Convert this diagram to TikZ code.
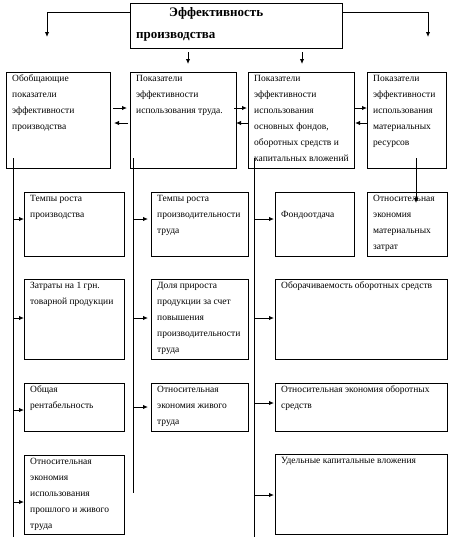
\documentclass[tikz,border=0pt]{standalone}
\usepackage{fontspec}
\setmainfont{Liberation Serif}
\usetikzlibrary{arrows.meta}
\newcommand{\mybox}[6]{%
  \node[box,minimum width=#4pt,minimum height=#5pt] (#1) at (#2,#3) {};
  \node[txt] (#1t) at ([shift={(6pt,-2pt)}]#1.north west) {\rule{0pt}{7pt}#6};}
\begin{document}
\begin{tikzpicture}[x=1pt,y=-1pt,
  box/.style={draw,line width=1pt,inner sep=0,anchor=north west},
  txt/.style={anchor=north west,inner sep=0,align=left,font=\fontsize{9.5}{16}\selectfont},
  ttl/.style={anchor=base west,inner sep=0,font=\fontsize{13}{16}\selectfont\bfseries},
  ln/.style={line width=1pt},
  arr/.style={line width=1pt,-{Latex[length=5pt,width=4.5pt]}}]
\useasboundingbox (0,0) rectangle (458,541);
% title box
\node[box,minimum width=212pt,minimum height=45pt] (T) at (130,3) {};
\node[ttl] (T1) at (169,16) {Эффективность};
\node[ttl] (T2) at (136,38) {производства};
% first row
\mybox{A}{6}{72}{104}{96}{Обобщающие\\показатели\\эффективности\\производства}
\mybox{B}{130}{72}{106}{96}{Показатели\\эффективности\\использования труда.}
\mybox{C}{248}{72}{106}{96}{Показатели\\эффективности\\использования\\основных фондов,\\оборотных средств и\\капитальных вложений}
\mybox{D}{367}{72}{79}{96}{Показатели\\эффективности\\использования\\материальных\\ресурсов}
% column 1
\mybox{E1}{24}{192}{100}{64}{Темпы роста\\производства}
\mybox{E2}{24}{279}{100}{80}{Затраты на 1 грн.\\товарной продукции}
\mybox{E3}{24}{383}{100}{48}{Общая\\рентабельность}
\mybox{E4}{24}{455}{100}{79}{Относительная\\экономия\\использования\\прошлого и живого\\труда}
% column 2
\mybox{F1}{151}{192}{97}{64}{Темпы роста\\производительности\\труда}
\mybox{F2}{151}{279}{97}{80}{Доля прироста\\продукции за счет\\повышения\\производительности\\труда}
\mybox{F3}{151}{383}{97}{48}{Относительная\\экономия живого\\труда}
% column 3/4
\mybox{G1}{275}{192}{79}{64}{\\Фондоотдача}
\mybox{H1}{367}{192}{80}{64}{Относительная\\экономия\\материальных\\затрат}
\mybox{G2}{275}{279}{172}{80}{Оборачиваемость оборотных средств}
\mybox{G3}{275}{383}{172}{48}{Относительная экономия оборотных\\средств}
\mybox{G4}{275}{454}{172}{80}{Удельные капитальные вложения}
% coordinates
\coordinate (tl) at (130,12);
\coordinate (tlE) at (47,37);
\coordinate (tr) at (342,12);
\coordinate (trE) at (428,37);
\coordinate (d1s) at (188,52); \coordinate (d1e) at (188,64);
\coordinate (d2s) at (302,52); \coordinate (d2e) at (302,64);
\coordinate (r1s) at (113,108); \coordinate (r1e) at (127,108);
\coordinate (l1s) at (128,123); \coordinate (l1e) at (114,123);
\coordinate (r2s) at (234,108); \coordinate (r2e) at (247,108);
\coordinate (l2s) at (248,123); \coordinate (l2e) at (236,123);
\coordinate (r3s) at (354,108); \coordinate (r3e) at (367,108);
\coordinate (l3s) at (368,123); \coordinate (l3e) at (355,123);
\coordinate (a1) at (13,158); \coordinate (a2) at (13,537);
\coordinate (b1) at (133,158); \coordinate (b2) at (133,493);
\coordinate (c1) at (254,158); \coordinate (c2) at (254,537);
\coordinate (dd1) at (416,158); \coordinate (dd2) at (416,203);
% title connectors
\draw[arr] (tl) -| (tlE);
\draw[arr] (tr) -| (trE);
\draw[arr] (d1s) -- (d1e);
\draw[arr] (d2s) -- (d2e);
% horizontal arrows between first row
\draw[arr] (r1s) -- (r1e);
\draw[arr] (l1s) -- (l1e);
\draw[arr] (r2s) -- (r2e);
\draw[arr] (l2s) -- (l2e);
\draw[arr] (r3s) -- (r3e);
\draw[arr] (l3s) -- (l3e);
% vertical trunks
\draw[ln] (a1) -- (a2);
\draw[ln] (b1) -- (b2);
\draw[ln] (c1) -- (c2);
\draw[arr] (dd1) -- (dd2);
% branches col 1
\coordinate (e1) at (13,219); \draw[arr] (e1) -- (e1 -| E1.west);
\coordinate (e2) at (13,318); \draw[arr] (e2) -- (e2 -| E2.west);
\coordinate (e3) at (13,410); \draw[arr] (e3) -- (e3 -| E3.west);
\coordinate (e4) at (13,502); \draw[arr] (e4) -- (e4 -| E4.west);
% branches col 2
\coordinate (f1) at (133,219); \draw[arr,shorten >=3pt] (f1) -- (f1 -| F1.west);
\coordinate (f2) at (133,318); \draw[arr,shorten >=3pt] (f2) -- (f2 -| F2.west);
\coordinate (f3) at (133,407); \draw[arr,shorten >=3pt] (f3) -- (f3 -| F3.west);
% branches col 3
\coordinate (g1) at (254,219); \draw[arr,shorten >=1pt] (g1) -- (g1 -| G1.west);
\coordinate (g2) at (254,318); \draw[arr,shorten >=1pt] (g2) -- (g2 -| G2.west);
\coordinate (g3) at (254,403); \draw[arr,shorten >=1pt] (g3) -- (g3 -| G3.west);
\coordinate (g4) at (254,495); \draw[arr,shorten >=1pt] (g4) -- (g4 -| G4.west);
\end{tikzpicture}
\end{document}
